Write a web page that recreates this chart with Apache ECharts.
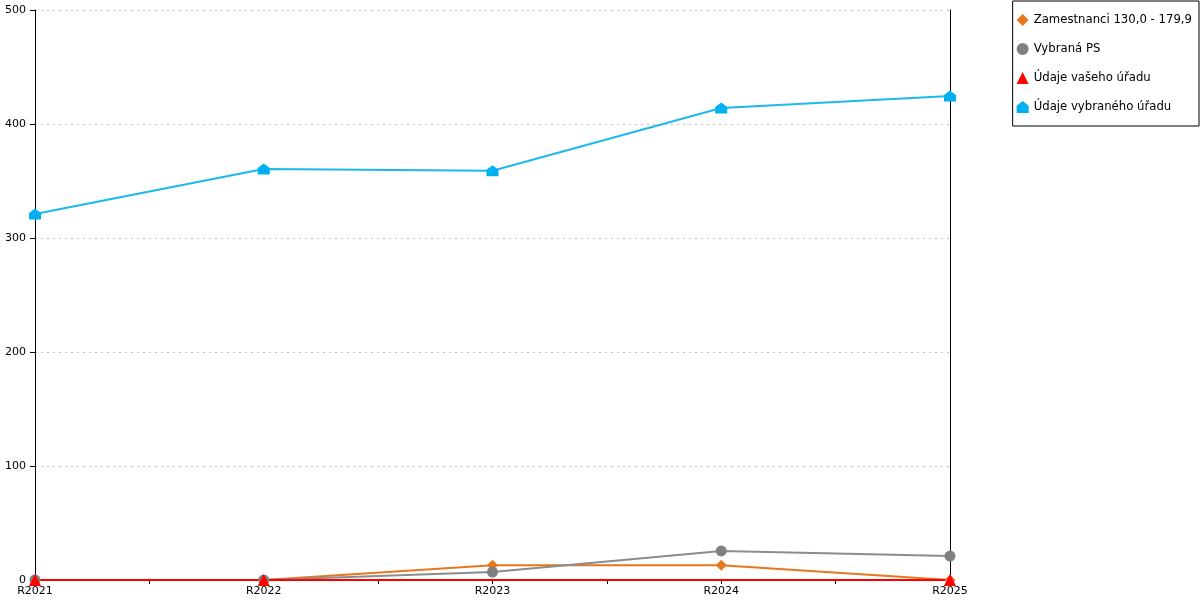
<!DOCTYPE html>
<html><head><meta charset="utf-8">
<script src="https://cdn.jsdelivr.net/npm/echarts@6/dist/echarts.min.js"></script>
<style>html,body{margin:0;padding:0;background:#fff}#c{width:1200px;height:600px}</style>
</head><body><div id="c"></div>
<script>
const categories = ['R2021','R2022','R2023','R2024','R2025'];
const zamestnanci = [0, 0, 13, 13, 0];
const vybranaPS = [0, 0, 7, 25.5, 21];
const vasUrad = [0, 0, null, null, 0];
const vybranyUrad = [321, 360.5, 359, 414, 424.5];
const yTicks = [0, 100, 200, 300, 400, 500];

const house = 'path://M0,4 L5,0 L10,4 L10,10 L0,10 Z';
const font = 'DejaVu Sans';
const pts = arr => categories.map((c, i) => [i, arr[i]]);

const chart = echarts.init(document.getElementById('c'));
chart.setOption({
  animation: false,
  textStyle: {fontFamily: font},
  grid: {left: 35, right: 250, top: 10, bottom: 20, containLabel: false},
  xAxis: {
    type: 'value', min: 0, max: categories.length - 1, interval: 0.5,
    axisLine: {show: true, lineStyle: {color: '#000', width: 1}},
    axisTick: {show: true, length: 4, lineStyle: {color: '#000'}},
    axisLabel: {color: '#000', fontSize: 11, fontFamily: font, margin: 6,
      formatter: v => Number.isInteger(v) ? categories[v] : ''},
    splitLine: {show: false}
  },
  yAxis: [{
    type: 'value', min: yTicks[0], max: yTicks[yTicks.length - 1], interval: 100,
    axisLine: {show: true, lineStyle: {color: '#000', width: 1}},
    axisTick: {show: true, length: 5, lineStyle: {color: '#000'}},
    axisLabel: {color: '#000', fontSize: 11, fontFamily: font, margin: 9},
    splitLine: {show: true, lineStyle: {color: '#c0c0c0', type: [2, 4], width: 1}}
  }, {
    type: 'value', position: 'right', min: 0, max: 500, interval: 100,
    axisLine: {show: true, lineStyle: {color: '#000', width: 1}},
    axisTick: {show: false}, axisLabel: {show: false}, splitLine: {show: false}
  }],
  legend: {
    orient: 'vertical', right: 1, top: 1,
    borderColor: '#000', borderWidth: 1, backgroundColor: '#fff',
    padding: [13, 7, 13, 4], itemGap: 17, itemWidth: 12, itemHeight: 12,
    textStyle: {color: '#000', fontSize: 11.7, fontFamily: font},
    data: [
      {name: 'Zamestnanci 130,0 - 179,9', icon: 'diamond'},
      {name: 'Vybraná PS', icon: 'circle'},
      {name: 'Údaje vašeho úřadu', icon: 'triangle'},
      {name: 'Údaje vybraného úřadu', icon: house}
    ]
  },
  series: [
    {name: 'Zamestnanci 130,0 - 179,9', type: 'line', data: pts(zamestnanci),
     symbol: 'diamond', symbolSize: 11, color: '#E8761A',
     lineStyle: {width: 2}, itemStyle: {color: '#E8761A'}},
    {name: 'Vybraná PS', type: 'line', data: pts(vybranaPS),
     symbol: 'circle', symbolSize: 11, color: '#808080',
     lineStyle: {width: 2, color: '#8c8c8c'}, itemStyle: {color: '#808080'}},
    {name: 'Údaje vašeho úřadu', type: 'line', data: pts(vasUrad), connectNulls: true,
     symbol: 'triangle', symbolSize: 12, color: '#FF0000',
     lineStyle: {width: 2}, itemStyle: {color: '#FF0000'}},
    {name: 'Údaje vybraného úřadu', type: 'line', data: pts(vybranyUrad),
     symbol: house, symbolSize: [12, 11], color: '#00B0F0',
     lineStyle: {width: 2, color: '#1CB8EE'}, itemStyle: {color: '#00B0F0'}}
  ]
});
</script></body></html>
